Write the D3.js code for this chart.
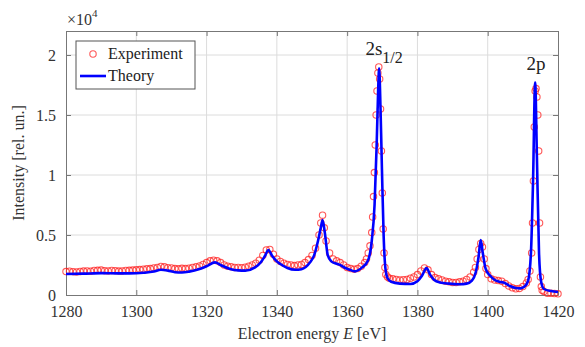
<!DOCTYPE html>
<html>
<head>
<meta charset="utf-8">
<script src="https://cdn.jsdelivr.net/npm/d3@7"></script>
<style>
  body { margin: 0; background: #fff; }
  svg { font-family: "Liberation Serif", "DejaVu Serif", serif; }
  .grid line { stroke: #dcdcdc; stroke-width: 1; }
  .axis path, .axis line { stroke: #777; }
  .axis text { fill: #333; font-size: 16px; }
</style>
</head>
<body>
<svg width="585" height="347"></svg>
<script>
// theory curve (energy in eV, intensity in counts)
var theoryE = [1280, 1285, 1290, 1295, 1298, 1302, 1305, 1307, 1309, 1311, 1313, 1315, 1318, 1320, 1322.4, 1324, 1326.7, 1329, 1331, 1333.8, 1335.5, 1336.6, 1337.6, 1338.6, 1340, 1341, 1343, 1345.2, 1347, 1349.4, 1350.6, 1351.7, 1352.5, 1353, 1353.6, 1354.5, 1355.5, 1357, 1358, 1359.5, 1360.8, 1362.2, 1364.2, 1365.9, 1367, 1367.8, 1368.4, 1368.8, 1369.1, 1369.5, 1369.9, 1370.4, 1370.9, 1371.5, 1372.5, 1375, 1378, 1380, 1381.3, 1382.6, 1383.6, 1384.8, 1386.4, 1389, 1392, 1394, 1395.5, 1396.6, 1397.4, 1398, 1398.6, 1399.4, 1400.7, 1402, 1403.3, 1404.5, 1406.3, 1408, 1409.3, 1410.5, 1411.5, 1412.3, 1412.9, 1413.5, 1414, 1414.6, 1415.2, 1416, 1418, 1420];
var theoryI = [1750, 1780, 1820, 1800, 1800, 1850, 1950, 2100, 2030, 1900, 1880, 1950, 2170, 2400, 2720, 2500, 2170, 2050, 2030, 2300, 2750, 3250, 3750, 3300, 2800, 2580, 2250, 2100, 2150, 2700, 3300, 4500, 5600, 6250, 5300, 3300, 2800, 2600, 2500, 2250, 2100, 1970, 2280, 2850, 4500, 7500, 12500, 16800, 18900, 15500, 10500, 4800, 2200, 1400, 1100, 950, 920, 1150, 1600, 2250, 1700, 1250, 1050, 950, 900, 950, 1200, 1900, 3200, 4580, 3500, 2200, 1600, 1250, 1100, 1050, 750, 580, 550, 700, 1200, 3500, 9500, 17700, 11500, 3500, 1100, 500, 330, 250];

// experimental points
var expE = [1280, 1281, 1282, 1283, 1284, 1285, 1286, 1287, 1288, 1289, 1290, 1291, 1292, 1293, 1294, 1295, 1296, 1297, 1298, 1299, 1300, 1301, 1302, 1303, 1304, 1305, 1306, 1307, 1308, 1309, 1310, 1311, 1312, 1313, 1314, 1315, 1316, 1317, 1318, 1319, 1320, 1321, 1322, 1323, 1324, 1325, 1326, 1327, 1328, 1329, 1330, 1331, 1332, 1333, 1334, 1335, 1336, 1337, 1338, 1339, 1340, 1341, 1342, 1343, 1344, 1345, 1346, 1347, 1348, 1349, 1350, 1351, 1352, 1352.5, 1353, 1353.5, 1354, 1355, 1356, 1357, 1358, 1359, 1360, 1361, 1362, 1363, 1364, 1365, 1365.5, 1366, 1366.5, 1367, 1367.25, 1367.5, 1367.75, 1368, 1368.25, 1368.5, 1368.75, 1369, 1369.25, 1369.5, 1369.75, 1370, 1370.25, 1370.5, 1370.75, 1371, 1371.5, 1372, 1373, 1374, 1375, 1376, 1377, 1378, 1379, 1380, 1381, 1382, 1383, 1384, 1385, 1386, 1387, 1388, 1389, 1390, 1391, 1392, 1393, 1394, 1395, 1396, 1396.5, 1397, 1397.5, 1398, 1398.5, 1399, 1399.5, 1400, 1401, 1402, 1403, 1404, 1405, 1406, 1407, 1408, 1409, 1410, 1411, 1411.5, 1412, 1412.5, 1412.75, 1413, 1413.25, 1413.5, 1413.75, 1414, 1414.25, 1414.5, 1414.75, 1415, 1415.25, 1415.5, 1416, 1417, 1418, 1419, 1420];
var expI = [1950, 1980, 1940, 1920, 1960, 1990, 2010, 1980, 2040, 2060, 2080, 2020, 2000, 2050, 2030, 1990, 2000, 2040, 2060, 2080, 2100, 2120, 2150, 2180, 2200, 2250, 2300, 2380, 2350, 2280, 2250, 2200, 2180, 2220, 2200, 2230, 2300, 2350, 2420, 2550, 2700, 2850, 2900, 2850, 2700, 2500, 2400, 2350, 2300, 2300, 2280, 2320, 2400, 2500, 2650, 2900, 3300, 3750, 3800, 3400, 3000, 2800, 2650, 2550, 2500, 2450, 2500, 2550, 2700, 2950, 3300, 3900, 5000, 6000, 6650, 5600, 4500, 3500, 3000, 2850, 2700, 2500, 2300, 2200, 2150, 2200, 2400, 2700, 3000, 3500, 4100, 5200, 6500, 8200, 10200, 12500, 15000, 17000, 18500, 19000, 18000, 15500, 12000, 8500, 5500, 3500, 2300, 1700, 1500, 1400, 1350, 1300, 1250, 1280, 1300, 1400, 1500, 1700, 2000, 2250, 2100, 1700, 1450, 1350, 1250, 1150, 1100, 1050, 1050, 1100, 1150, 1300, 1500, 1900, 2300, 3000, 3800, 4300, 4000, 3000, 2200, 1700, 1350, 1250, 1200, 1150, 950, 750, 600, 520, 550, 700, 1000, 1300, 2000, 3500, 6000, 9500, 14000, 17000, 17200, 16500, 15000, 12000, 6000, 1500, 700, 400, 300, 150, 150, 120, 100];

var xTicks = [1280, 1300, 1320, 1340, 1360, 1380, 1400, 1420];
var yTicks = [0, 5000, 10000, 15000, 20000];

var serif = "Liberation Serif, DejaVu Serif, serif";

var svg = d3.select("svg"),
  margin = { top: 31, right: 27, bottom: 52, left: 66 },
  width = 585 - margin.left - margin.right,
  height = 347 - margin.top - margin.bottom;

var x = d3.scaleLinear().domain([1280, 1420]).range([0, width]),
  y = d3.scaleLinear().domain([0, 22000]).range([height, 0]);

var g = svg.append("g")
  .attr("transform", "translate(" + margin.left + "," + margin.top + ")");

// grid
g.append("g").attr("class", "grid")
  .selectAll("line").data(xTicks.slice(1, -1)).enter().append("line")
  .attr("x1", x).attr("x2", x).attr("y1", 0).attr("y2", height);
g.append("g").attr("class", "grid")
  .selectAll("line").data(yTicks.slice(1)).enter().append("line")
  .attr("x1", 0).attr("x2", width).attr("y1", y).attr("y2", y);

// axes (ticks inward, box style)
g.append("g").attr("class", "axis")
  .attr("transform", "translate(0," + height + ")")
  .call(d3.axisBottom(x).tickValues(xTicks).tickSizeInner(-5).tickSizeOuter(0).tickPadding(11).tickFormat(d3.format("d")));
g.append("g").attr("class", "axis")
  .call(d3.axisTop(x).tickValues(xTicks).tickSizeInner(-5).tickSizeOuter(0).tickFormat(""));
g.append("g").attr("class", "axis")
  .call(d3.axisLeft(y).tickValues(yTicks).tickSizeInner(-5).tickSizeOuter(0).tickPadding(10)
    .tickFormat(function (d) { return d3.format("~g")(d / 10000); }));
g.append("g").attr("class", "axis")
  .attr("transform", "translate(" + width + ",0)")
  .call(d3.axisRight(y).tickValues(yTicks).tickSizeInner(-5).tickSizeOuter(0).tickFormat(""));

g.selectAll(".axis").attr("font-family", serif).attr("font-size", 16);
g.selectAll(".axis .domain").attr("stroke", "#777");

// experiment markers
var expData = expE.map(function (e, i) { return { e: e, v: expI[i] }; });
g.append("g").selectAll("circle")
  .data(expData).enter().append("circle")
  .attr("cx", function (d) { return x(d.e); })
  .attr("cy", function (d) { return y(d.v); })
  .attr("r", 3.2)
  .attr("fill", "none")
  .attr("stroke", "#ff2020")
  .attr("stroke-opacity", 0.75)
  .attr("stroke-width", 1.1);

// theory line
var thData = theoryE.map(function (e, i) { return { e: e, v: theoryI[i] }; });
g.append("path")
  .datum(thData)
  .attr("fill", "none")
  .attr("stroke", "#0000ff")
  .attr("stroke-width", 2.6)
  .attr("stroke-linejoin", "round")
  .attr("d", d3.line().curve(d3.curveMonotoneX)
    .x(function (d) { return x(d.e); })
    .y(function (d) { return y(d.v); }));

// peak labels
var lab = g.append("text").attr("fill", "#222").attr("font-size", 19)
  .attr("x", x(1368.9) - 13).attr("y", 24);
lab.append("tspan").text("2s");
lab.append("tspan").attr("font-size", 16).attr("dy", 8).text("1/2");
g.append("text").attr("fill", "#222").attr("font-size", 19)
  .attr("x", x(1413.6) - 9).attr("y", 39).text("2p");

// exponent
var ex = svg.append("text").attr("fill", "#333").attr("font-size", 16)
  .attr("x", 67).attr("y", 25);
ex.append("tspan").text("\u00d710");
ex.append("tspan").attr("font-size", 11).attr("dy", -8).text("4");

// legend
var lg = g.append("g").attr("transform", "translate(10,10)");
lg.append("rect").attr("width", 119).attr("height", 48)
  .attr("fill", "#fff").attr("stroke", "#555").attr("stroke-width", 1);
lg.append("circle").attr("cx", 17).attr("cy", 13).attr("r", 3.2)
  .attr("fill", "none").attr("stroke", "#ff2020").attr("stroke-opacity", 0.75).attr("stroke-width", 1.1);
lg.append("text").attr("x", 32).attr("y", 18).attr("font-size", 16).attr("fill", "#222").text("Experiment");
lg.append("line").attr("x1", 4).attr("x2", 30).attr("y1", 35).attr("y2", 35)
  .attr("stroke", "#0000ff").attr("stroke-width", 2.6);
lg.append("text").attr("x", 32).attr("y", 40).attr("font-size", 16).attr("fill", "#222").text("Theory");

// axis titles
var xl = svg.append("text").attr("fill", "#333").attr("font-size", 16)
  .attr("text-anchor", "middle")
  .attr("x", margin.left + width / 2).attr("y", 339);
xl.append("tspan").text("Electron energy ");
xl.append("tspan").attr("font-style", "italic").text("E");
xl.append("tspan").text(" [eV]");

svg.append("text").attr("fill", "#333").attr("font-size", 16)
  .attr("text-anchor", "middle")
  .attr("transform", "translate(24," + (margin.top + height / 2) + ") rotate(-90)")
  .text("Intensity [rel. un.]");
</script>
</body>
</html>
